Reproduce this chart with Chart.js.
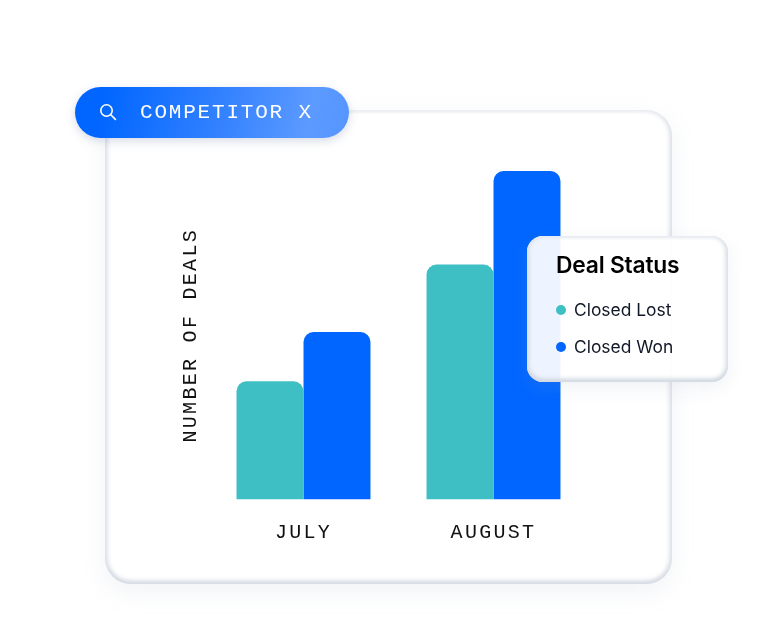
<!DOCTYPE html>
<html>
<head>
<meta charset="utf-8">
<script src="https://cdn.jsdelivr.net/npm/chart.js@4"></script>
<style>
  html, body { margin: 0; padding: 0; background: #fff; width: 775px; height: 634px; overflow: hidden; }
  .card {
    position: absolute; left: 105px; top: 110px; width: 567px; height: 474px;
    background: #fff; border-radius: 26px; box-sizing: border-box;
    box-shadow: inset 0 -3px 5px #d3d8e2, inset 3px 0 5px #e9ebf0, inset -3px 0 5px #e9ebf0, inset 0 2px 4px #f1f2f5,
      0 8px 24px rgba(150,160,185,.13);
  }
  #wrap { position: absolute; left: 0; top: 0; width: 775px; height: 634px; }
  .pill {
    position: absolute; left: 75px; top: 87px; width: 274px; height: 51px; border-radius: 26px;
    background: linear-gradient(100deg, #0066ff 10%, #2f7fff 50%, #5c9aff 85%, #5595ff 100%);
    box-shadow: 0 3px 10px rgba(120,135,170,.3);
    color: #fff; font: 21px "Liberation Mono", monospace; letter-spacing: 1.8px; line-height: 52px;
  }
  .pill span { position: absolute; left: 65px; top: 0; white-space: pre; }
  .pill svg { position: absolute; left: 24px; top: 16px; }
  .legend {
    position: absolute; left: 527px; top: 236px; width: 201px; height: 146px; border-radius: 16px;
    background: rgba(255,255,255,.93); box-sizing: border-box;
    box-shadow: inset 0 -3px 5px #cfd5e0, inset 3px 0 5px #e6e9ef, inset -3px 0 5px #e6e9ef, inset 0 2px 3px #eff1f4,
      0 6px 18px rgba(150,160,185,.14);
    font-family: Inter, sans-serif; color: #111827;
  }
  .legend h4 { position: absolute; left: 29px; top: 14px; margin: 0; font-size: 22.8px; line-height: 30px; font-weight: 600; color: #000; letter-spacing: -.2px; white-space: nowrap; }
  .legend div { position: absolute; left: 47px; font-size: 17.4px; line-height: 22px; white-space: nowrap; }
  .legend i { position: absolute; left: -18px; top: 6px; width: 10px; height: 10px; border-radius: 50%; }
</style>
</head>
<body>
<div class="card"></div>
<div id="wrap"><canvas id="dealsChart" width="775" height="634"></canvas></div>
<div class="pill">
  <svg width="18" height="18" viewBox="0 0 18 18" fill="none" stroke="#fff" stroke-width="1.6" stroke-linecap="round"><circle cx="7.5" cy="7.5" r="5.7"/><path d="M11.8 11.8L16.4 16.4"/></svg>
  <span>COMPETITOR X</span>
</div>
<div class="legend" id="legend"></div>
<script>
var months = ['JULY', 'AUGUST'];
var closedLost = [36, 71.5];
var closedWon = [51, 100];
var seriesNames = ['Closed Lost', 'Closed Won'];
var seriesColors = ['#3ebfc4', '#0066ff'];
var legendTitle = 'Deal Status';
var yTitle = 'NUMBER OF DEALS';

var monoSpacing = {
    id: 'monoSpacing',
    beforeDraw: function(chart) { chart.ctx.letterSpacing = '2.3px'; }
};

var ctx = document.getElementById('dealsChart').getContext('2d');
var myChart = new Chart(ctx, {
    type: 'bar',
    plugins: [monoSpacing],
    data: {
        labels: months,
        datasets: [
            { label: seriesNames[0], data: closedLost, backgroundColor: seriesColors[0] },
            { label: seriesNames[1], data: closedWon, backgroundColor: seriesColors[1] }
        ]
    },
    options: {
        responsive: false,
        animation: false,
        devicePixelRatio: 1,
        layout: { padding: { left: 170, top: 171, right: 186.5, bottom: 0 } },
        datasets: {
            bar: {
                categoryPercentage: 0.705,
                barPercentage: 1,
                borderRadius: { topLeft: 10, topRight: 10, bottomLeft: 0, bottomRight: 0 },
                borderSkipped: false
            }
        },
        plugins: { legend: { display: false }, tooltip: { enabled: false } },
        scales: {
            x: {
                grid: { display: false },
                border: { display: false },
                ticks: { color: '#111', padding: 13, maxRotation: 0, font: { family: 'Liberation Mono', size: 20 } },
                afterFit: function(scale) { scale.height = 134.5; }
            },
            y: {
                min: 0,
                max: 100,
                grid: { display: false },
                border: { display: false },
                ticks: { display: false },
                title: {
                    display: true,
                    text: yTitle,
                    color: '#111',
                    padding: { top: 9, bottom: 0 },
                    font: { family: 'Liberation Mono', size: 20, weight: 'normal' }
                },
                afterFit: function(scale) { scale.width = 38.5; }
            }
        }
    }
});

var legend = document.getElementById('legend');
var html = '<h4>' + legendTitle + '</h4>';
seriesNames.forEach(function(name, i) {
    html += '<div style="top:' + (63 + i * 37) + 'px"><i style="background:' + seriesColors[i] + '"></i>' + name + '</div>';
});
legend.innerHTML = html;
</script>
</body>
</html>
